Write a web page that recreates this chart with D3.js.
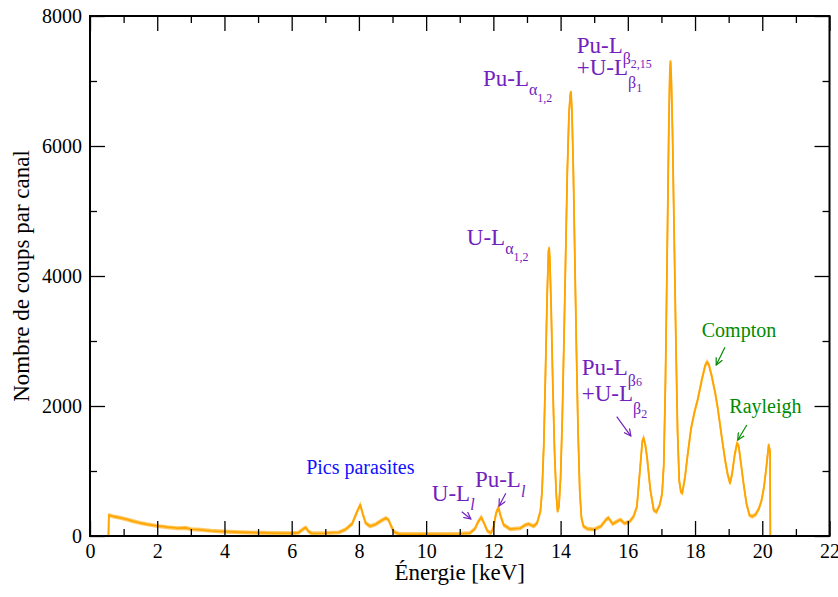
<!DOCTYPE html>
<html lang="fr">
<head>
<meta charset="UTF-8" />
<title>Spectre de fluorescence X</title>
<script src="https://d3js.org/d3.v7.min.js"></script>
<style>
  body { margin: 0; background: #fff; }
</style>
</head>
<body>
<div id="chart"></div>
<script>
// spectrum (keV, counts per channel)
var energy = [
  0.55, 0.56, 0.7, 0.9, 1.1, 1.3, 1.5, 1.7, 2.0, 2.3, 2.6, 2.85, 3.0, 3.3, 3.6, 4.0, 4.5, 5.0, 5.5, 6.0,
  6.2, 6.35, 6.42, 6.5, 6.6, 7.0, 7.4, 7.6, 7.8, 7.95, 8.04, 8.12, 8.2, 8.33, 8.5, 8.65, 8.8, 8.88, 8.96, 9.05,
  9.2, 10.0, 11.0, 11.3, 11.45, 11.55, 11.64, 11.72, 11.82, 11.92, 12.0, 12.08, 12.15, 12.22, 12.31, 12.5, 12.8, 12.95, 13.05, 13.2,
  13.3, 13.4, 13.45, 13.5, 13.55, 13.6, 13.64, 13.66, 13.68, 13.72, 13.77, 13.82, 13.87, 13.91, 13.95, 14.0, 14.05, 14.1, 14.15, 14.2,
  14.25, 14.29, 14.31, 14.34, 14.38, 14.42, 14.47, 14.52, 14.57, 14.62, 14.68, 14.8, 15.0, 15.2, 15.35, 15.42, 15.55, 15.7, 15.78, 15.9,
  16.05, 16.17, 16.27, 16.37, 16.43, 16.47, 16.52, 16.57, 16.67, 16.77, 16.85, 16.95, 17.02, 17.07, 17.12, 17.17, 17.22, 17.25, 17.27, 17.29,
  17.33, 17.38, 17.43, 17.48, 17.53, 17.58, 17.62, 17.7, 17.78, 17.88, 17.98, 18.08, 18.2, 18.3, 18.36, 18.42, 18.5, 18.6, 18.68, 18.8,
  18.9, 18.97, 19.04, 19.1, 19.18, 19.25, 19.3, 19.37, 19.45, 19.53, 19.62, 19.7, 19.8, 19.9, 19.98, 20.05, 20.12, 20.19, 20.23, 20.24
];
var counts = [
  0, 320, 300, 280, 255, 225, 200, 180, 155, 135, 120, 125, 105, 95, 80, 68, 58, 50, 45, 42,
  50, 110, 130, 70, 40, 45, 55, 100, 190, 380, 480, 330, 200, 150, 180, 230, 275, 250, 150, 60,
  30, 30, 32, 45, 110, 220, 290, 200, 80, 45, 120, 350, 440, 300, 170, 105, 118, 170, 185, 150,
  200, 380, 700, 1400, 2500, 3700, 4380, 4430, 4250, 3500, 2300, 1300, 650, 380, 450, 900, 1800, 3000, 4300, 5600,
  6500, 6800, 6830, 6500, 5600, 4400, 2900, 1600, 700, 280, 150, 110, 100, 150, 250, 280, 185, 230, 250, 195,
  220, 300, 450, 1070, 1450, 1510, 1400, 1220, 710, 400, 370, 480, 650, 1100, 2400, 4300, 6300, 7150, 7300, 7100,
  6200, 4600, 3000, 1600, 850, 680, 660, 900, 1250, 1650, 1900, 2100, 2400, 2620, 2680, 2620, 2450, 2200, 1950, 1500,
  1150, 950, 810, 950, 1250, 1430, 1380, 1100, 780, 500, 320, 300, 330, 420, 550, 750, 1050, 1400, 1300, 0
];

var xTicks = [0, 2, 4, 6, 8, 10, 12, 14, 16, 18, 20, 22];
var xMinorTicks = [1, 3, 5, 7, 9, 11, 13, 15, 17, 19, 21];
var yTicks = [0, 2000, 4000, 6000, 8000];
var yMinorTicks = [1000, 3000, 5000, 7000];

var indigo = "#7221bc", blue = "#1010ff", green = "#008b00";

// pick the first serif face the browser actually has
function hasFont(name) {
  var ctx = document.createElement("canvas").getContext("2d");
  var s = "mmmmmmmmmwwwwwlliI0123";
  var found = false;
  ["monospace", "sans-serif"].forEach(function (base) {
    ctx.font = "40px " + base;
    var w0 = ctx.measureText(s).width;
    ctx.font = "40px '" + name + "', " + base;
    if (ctx.measureText(s).width !== w0) found = true;
  });
  return found;
}
var serifName = ["Liberation Serif", "Tinos", "Times New Roman", "Nimbus Roman",
  "DejaVu Serif", "Noto Serif", "FreeSerif", "Times"].filter(hasFont)[0];
var serif = serifName ? "'" + serifName + "', serif" : "serif";

var width = 838, height = 597;
var svg = d3.select("#chart").append("svg")
  .attr("width", width).attr("height", height)
  .style("font-family", serif);

var x = d3.scaleLinear().domain([0, 22]).range([90, 829.5]);
var y = d3.scaleLinear().domain([0, 8000]).range([536, 16]);

var points = energy.map(function (e, i) { return [e, counts[i]]; });

var line = d3.line()
  .x(function (d) { return x(d[0]); })
  .y(function (d) { return y(d[1]); });

// the counting noise makes the flat parts look thicker: two faint shifted copies
[-1.3, 1.3].forEach(function (off) {
  svg.append("path")
    .datum(points)
    .attr("transform", "translate(0," + off + ")")
    .attr("fill", "none")
    .attr("stroke", "#ffa500")
    .attr("stroke-opacity", 0.6)
    .attr("stroke-width", 1.5)
    .attr("d", line);
});

svg.append("path")
  .datum(points)
  .attr("fill", "none")
  .attr("stroke", "#ffa500")
  .attr("stroke-width", 1.8)
  .attr("stroke-linejoin", "round")
  .attr("d", line);

// axes: inward ticks on all four sides
function styleAxis(g) {
  g.select(".domain").remove();
  g.selectAll(".tick line").attr("stroke", "#000").attr("stroke-width", 1.3);
  g.attr("font-family", serif).attr("font-size", 20);
  g.selectAll("text").attr("fill", "#000");
}

svg.append("g").attr("transform", "translate(0," + y(0) + ")")
  .call(d3.axisBottom(x).tickValues(xTicks).tickFormat(d3.format("d"))
    .tickSizeInner(-15).tickSizeOuter(0).tickPadding(8))
  .call(styleAxis);
svg.append("g").attr("transform", "translate(0," + y(0) + ")")
  .call(d3.axisBottom(x).tickValues(xMinorTicks).tickSize(-7).tickFormat(""))
  .call(styleAxis);
svg.append("g").attr("transform", "translate(0," + y(8000) + ")")
  .call(d3.axisTop(x).tickValues(xTicks).tickSize(-15).tickFormat(""))
  .call(styleAxis);
svg.append("g").attr("transform", "translate(0," + y(8000) + ")")
  .call(d3.axisTop(x).tickValues(xMinorTicks).tickSize(-7).tickFormat(""))
  .call(styleAxis);

svg.append("g").attr("transform", "translate(" + x(0) + ",0)")
  .call(d3.axisLeft(y).tickValues(yTicks).tickFormat(d3.format("d"))
    .tickSizeInner(-15).tickSizeOuter(0).tickPadding(8))
  .call(styleAxis);
svg.append("g").attr("transform", "translate(" + x(0) + ",0)")
  .call(d3.axisLeft(y).tickValues(yMinorTicks).tickSize(-7).tickFormat(""))
  .call(styleAxis);
svg.append("g").attr("transform", "translate(" + x(22) + ",0)")
  .call(d3.axisRight(y).tickValues(yTicks).tickSize(-15).tickFormat(""))
  .call(styleAxis);
svg.append("g").attr("transform", "translate(" + x(22) + ",0)")
  .call(d3.axisRight(y).tickValues(yMinorTicks).tickSize(-7).tickFormat(""))
  .call(styleAxis);

svg.append("rect")
  .attr("x", x(0)).attr("y", y(8000))
  .attr("width", x(22) - x(0)).attr("height", y(0) - y(8000))
  .attr("fill", "none").attr("stroke", "#000").attr("stroke-width", 2);

svg.append("text")
  .attr("x", (x(0) + x(22)) / 2).attr("y", 580)
  .attr("text-anchor", "middle")
  .style("font-size", "23px")
  .text("Énergie [keV]");

svg.append("text")
  .attr("transform", "rotate(-90)")
  .attr("x", -(y(0) + y(8000)) / 2).attr("y", 29)
  .attr("text-anchor", "middle")
  .style("font-size", "23px")
  .text("Nombre de coups par canal");

// annotations (anchored in data units)
var sizes = [23, 16, 12];
var labels = [
  { c: indigo, e: 11.69, n: 6920, parts: [["Pu-L", 0, 0], ["α", 1, 9], ["1,2", 2, 7]] },
  { c: indigo, e: 11.21, n: 4477, parts: [["U-L", 0, 0], ["α", 1, 9], ["1,2", 2, 7]] },
  { c: indigo, e: 14.48, n: 7435, parts: [["Pu-L", 0, 0], ["β", 1, 11], ["2,15", 2, 4]] },
  { c: indigo, e: 14.48, n: 7092, parts: [["+U-L", 0, 0], ["β", 1, 13], ["1", 2, 4]] },
  { c: indigo, e: 14.63, n: 2477, parts: [["Pu-L", 0, 0], ["β", 1, 11], ["6", 2, 0]] },
  { c: indigo, e: 14.63, n: 2077, parts: [["+U-L", 0, 0], ["β", 1, 13], ["2", 2, 4]] },
  { c: indigo, e: 10.17, n: 543, parts: [["U-L", 0, 0], ["l", 1, 9, true]] },
  { c: indigo, e: 11.45, n: 749, parts: [["Pu-L", 0, 0], ["l", 1, 10, true]] },
  { c: blue, e: 6.43, n: 954, parts: [["Pics parasites", 0, 0]], size: 20 },
  { c: green, e: 18.2, n: 3057, parts: [["Compton", 0, 0]], size: 20 },
  { c: green, e: 19.02, n: 1888, parts: [["Rayleigh", 0, 0]], size: 20 }
];

labels.forEach(function (l) {
  var t = svg.append("text")
    .attr("x", x(l.e)).attr("y", y(l.n))
    .attr("fill", l.c);
  l.parts.forEach(function (p) {
    t.append("tspan")
      .attr("dy", p[2])
      .style("font-size", (p[1] === 0 && l.size ? l.size : sizes[p[1]]) + "px")
      .style("font-style", p[3] ? "italic" : "normal")
      .text(p[0]);
  });
});

var defs = svg.append("defs");
[["ind", indigo], ["grn", green]].forEach(function (m) {
  defs.append("marker")
    .attr("id", "arrow-" + m[0])
    .attr("viewBox", "0 0 8 8")
    .attr("refX", 7).attr("refY", 4)
    .attr("markerWidth", 8).attr("markerHeight", 8)
    .attr("markerUnits", "userSpaceOnUse")
    .attr("orient", "auto")
    .append("path")
    .attr("d", "M0,0.5 L7,4 L0,7.5")
    .attr("fill", "none")
    .attr("stroke", m[1])
    .attr("stroke-width", 1.2);
});

var arrows = [
  { m: "ind", c: indigo, from: [11.06, 374], to: [11.33, 262] },
  { m: "ind", c: indigo, from: [12.37, 657], to: [12.17, 462] },
  { m: "ind", c: indigo, from: [15.67, 1835], to: [16.09, 1538] },
  { m: "grn", c: green, from: [18.89, 2903], to: [18.63, 2631] },
  { m: "grn", c: green, from: [19.54, 1708], to: [19.27, 1477] }
];

svg.selectAll(".arrow")
  .data(arrows)
  .join("line")
  .attr("class", "arrow")
  .attr("x1", function (d) { return x(d.from[0]); })
  .attr("y1", function (d) { return y(d.from[1]); })
  .attr("x2", function (d) { return x(d.to[0]); })
  .attr("y2", function (d) { return y(d.to[1]); })
  .attr("stroke", function (d) { return d.c; })
  .attr("stroke-width", 1.2)
  .attr("marker-end", function (d) { return "url(#arrow-" + d.m + ")"; });
</script>
</body>
</html>
